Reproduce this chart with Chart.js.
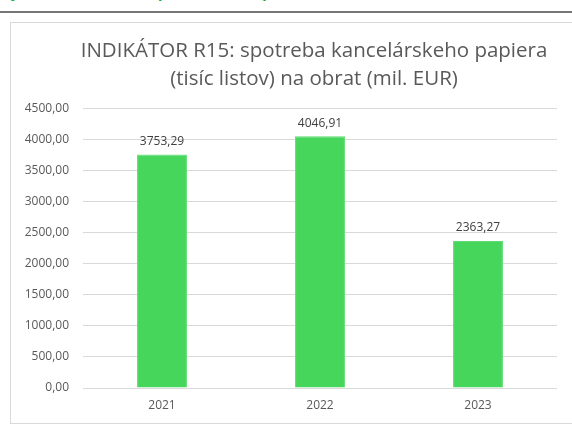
<!DOCTYPE html>
<html>
<head>
<meta charset="utf-8">
<script src="https://cdn.jsdelivr.net/npm/chart.js@4"></script>
<style>
  html, body { margin: 0; padding: 0; background: #fff; overflow: hidden; }
  body { width: 572px; height: 446px; position: relative; }
  #head { position: absolute; left: 6px; top: -16px; font: bold 16px "Liberation Sans", sans-serif; color: #1aa83a; white-space: nowrap; }
  #rule { position: absolute; left: 0; top: 11px; width: 572px; height: 2px; background: #767676; }
  #box { position: absolute; left: 10px; top: 22px; width: 620px; height: 400px; border: 1px solid #d9d9d9; }
  #wrap { position: absolute; left: 0; top: 0; width: 607px; height: 400px; }
</style>
</head>
<body>
<div id="head">ly environmentálne (indikátor R15)</div>
<div id="rule"></div>
<div id="box"><div id="wrap"><canvas id="myChart"></canvas></div></div>
<script>
// categories and values
var years = ["2021", "2022", "2023"];
var paper = [3753.29, 4046.91, 2363.27];
var yTicks = [0, 500, 1000, 1500, 2000, 2500, 3000, 3500, 4000, 4500];

var tickFont = '12px "Open Sans", sans-serif';

function fmt(v) {
  return v.toFixed(2).replace(".", ",");
}

// widest y label, so the mirrored labels can sit right-aligned left of the plot
var mctx = document.createElement("canvas").getContext("2d");
mctx.font = tickFont;
var widest = 0;
yTicks.forEach(function (v) { widest = Math.max(widest, mctx.measureText(fmt(v)).width); });

// writes the value above every bar
var barLabels = {
  id: "barLabels",
  afterDatasetsDraw: function (chart) {
    var ctx = chart.ctx;
    var meta = chart.getDatasetMeta(0);
    ctx.save();
    ctx.font = tickFont;
    ctx.fillStyle = "#404040";
    ctx.textAlign = "center";
    ctx.textBaseline = "bottom";
    meta.data.forEach(function (bar, i) {
      ctx.fillText(fmt(chart.data.datasets[0].data[i]), bar.x, bar.y - 7);
    });
    ctx.restore();
  }
};

var ctx = document.getElementById("myChart");
var myChart = new Chart(ctx, {
  type: "bar",
  data: {
    labels: years,
    datasets: [
      {
        data: paper,
        backgroundColor: "#47d65c",
        borderColor: "#5fdc72",
        borderWidth: 1,
        barPercentage: 0.316,
        categoryPercentage: 1
      }
    ]
  },
  options: {
    responsive: true,
    maintainAspectRatio: false,
    animation: false,
    layout: { padding: { left: 60, right: 61, top: 0, bottom: 11 } },
    plugins: {
      legend: { display: false },
      tooltip: { enabled: false },
      title: {
        display: true,
        text: ["INDIKÁTOR R15: spotreba kancelárskeho papiera", "(tisíc listov) na obrat (mil. EUR)"],
        color: "#595959",
        font: { family: '"Open Sans", sans-serif', size: 20.5, weight: "normal", lineHeight: 1.37 },
        padding: { top: 14, bottom: 15 }
      }
    },
    scales: {
      x: {
        grid: { display: false, drawTicks: false },
        border: { display: false },
        afterFit: function (axis) { axis.height = 24; },
        ticks: { color: "#595959", padding: 10, font: { family: '"Open Sans", sans-serif', size: 12 } }
      },
      y: {
        min: 0,
        max: 4500,
        afterBuildTicks: function (axis) {
          axis.ticks = yTicks.map(function (v) { return { value: v }; });
        },
        afterFit: function (axis) { axis.width = 12; },
        grid: { color: "#d9d9d9", drawTicks: false },
        border: { display: false },
        ticks: {
          color: "#595959",
          mirror: true,
          crossAlign: "far",
          padding: -(14 + widest),
          font: { family: '"Open Sans", sans-serif', size: 12 },
          callback: function (v) { return fmt(v); }
        }
      }
    }
  },
  plugins: [barLabels]
});
</script>
</body>
</html>
